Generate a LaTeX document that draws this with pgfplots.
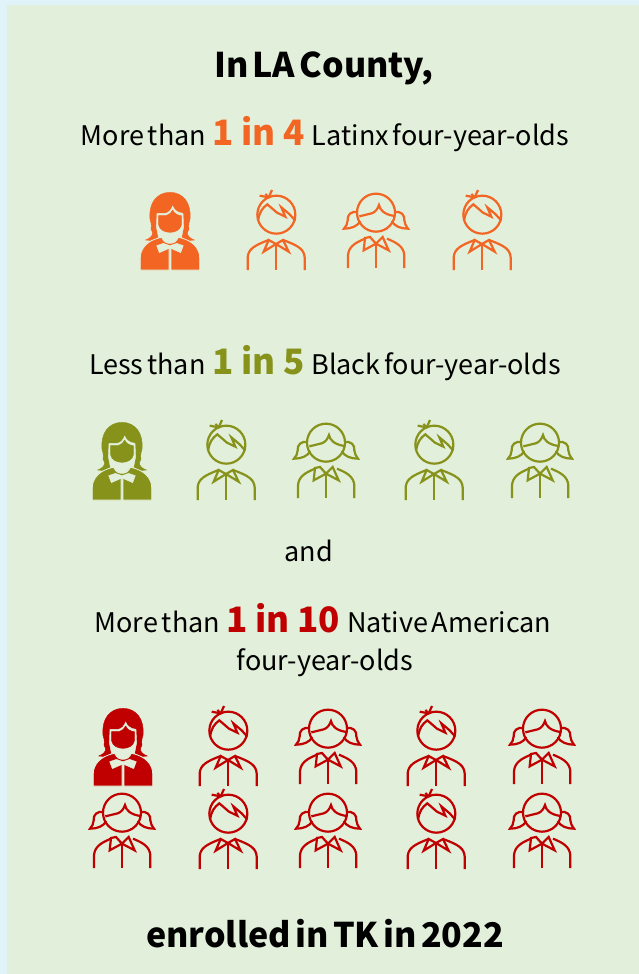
\documentclass[border=0pt]{standalone}
\usepackage{pgfplots}
\usepackage{fontspec}
\pgfplotsset{compat=1.18}
\setmainfont{Noto Sans CJK SC}
\definecolor{outerbg}{HTML}{E0F3F8}
\definecolor{panel}{HTML}{E2EFDA}
\definecolor{cO}{HTML}{F26522}
\definecolor{cG}{HTML}{87921A}
\definecolor{cR}{HTML}{C00000}
\newcommand\bigtxt[2]{\hspace{0.1em}\textcolor{#1}{\fontsize{35}{40}\selectfont\bfseries\spaceskip=0.22em #2}\hspace{0.12em}}
\newcommand\bodysize{\fontsize{27}{30}\selectfont\spaceskip=0.14em }
\newcommand\headsize{\fontsize{34}{38}\selectfont\bfseries\spaceskip=0.13em }
\newcommand\declareicons[2]{%
\pgfdeclareplotmark{boy#1}{%
 \begin{scope}[x=0.3333pt,y=-0.3333pt,draw=#2,line width=2.2pt,fill=none]
  \draw (1,-166) circle [radius=19pt];
  \draw (-54,-148) .. controls (-49,-175) and (-42,-185) .. (-26,-197) -- (3,-172) -- (28,-160) -- (16,-188) -- (41,-167) -- (58,-148);
  \draw (-12,-240) -- (-22,-218) -- (-49,-223);
  \draw (-32,-228) -- (-22,-218);
  \draw (-85,0) -- (-85,-38) .. controls (-83,-62) and (-67,-73) .. (-22,-90);
  \draw (86,0) -- (86,-38) .. controls (84,-62) and (68,-73) .. (21,-90);
  \draw (-22,-90) -- (-37,-55) -- (0,-78) -- (38,-55) -- (21,-90) -- (0,-78) -- cycle;
  \draw (0,-78) -- (0,0);
 \end{scope}}%
\pgfdeclareplotmark{girl#1}{%
 \begin{scope}[x=0.3333pt,y=-0.3333pt,draw=#2,line width=2.2pt,fill=none]
  \draw (0,-166) circle [radius=19pt];
  \draw (-50,-155) -- (-13,-164) .. controls (-1,-168) and (5,-178) .. (9,-189) .. controls (12,-173) and (25,-161) .. (55,-156);
  \draw (-55,-167) .. controls (-75,-173) and (-87,-158) .. (-85,-143) .. controls (-85,-133) and (-90,-125) .. (-96,-118) .. controls (-75,-118) and (-55,-125) .. (-47,-141);
  \draw (55,-167) .. controls (75,-173) and (87,-158) .. (85,-143) .. controls (85,-133) and (91,-125) .. (96,-118) .. controls (75,-118) and (55,-125) .. (47,-141);
  \draw (-84,0) -- (-84,-38) .. controls (-82,-63) and (-65,-75) .. (-33,-88);
  \draw (85,0) -- (85,-38) .. controls (83,-63) and (65,-75) .. (33,-88);
  \draw (-33,-90) -- (-37,-53) -- (0,-73) -- (38,-53) -- (20,-93) -- (0,-73) -- (-18,-93) -- cycle;
  \draw (0,-73) -- (0,0);
 \end{scope}}%
\pgfdeclareplotmark{solid#1}{%
 \begin{scope}[x=0.3333pt,y=-0.3333pt]
  \fill[#2] (-73,-90) .. controls (-60,-95) and (-52,-102) .. (-52,-112) .. controls (-56,-120) and (-60,-125) .. (-56,-132) .. controls (-60,-140) and (-54,-145) .. (-60,-152)
   .. controls (-65,-200) and (-40,-233) .. (0,-233) .. controls (40,-233) and (65,-200) .. (60,-152)
   .. controls (54,-145) and (60,-140) .. (56,-132) .. controls (60,-125) and (56,-120) .. (52,-112) .. controls (52,-102) and (60,-95) .. (73,-90)
   .. controls (55,-86) and (40,-92) .. (32,-104) -- (-32,-104) .. controls (-40,-92) and (-55,-86) .. (-73,-90) -- cycle;
  \fill[panel] (-39,-170) -- (-14,-170) .. controls (-2,-172) and (4,-182) .. (8,-192) .. controls (12,-182) and (20,-172) .. (39,-170) -- (41,-130) -- (34,-95) -- (-34,-95) -- (-41,-130) -- cycle;
  \fill[#2] (-34,-163) -- (-12,-163) .. controls (-2,-166) and (5,-172) .. (8,-180) .. controls (12,-170) and (22,-164) .. (34,-163) -- (34,-135) .. controls (31,-120) and (15,-113) .. (0,-113) .. controls (-15,-113) and (-31,-120) .. (-34,-135) -- cycle;
  \filldraw[fill=#2,draw=panel,line width=0.8pt] (-89,0) -- (-89,-38) .. controls (-89,-62) and (-70,-90) .. (-25,-98) .. controls (-20,-85) and (-10,-80) .. (0,-80) .. controls (10,-80) and (20,-85) .. (25,-98) .. controls (70,-90) and (89,-62) .. (89,-38) -- (89,0) -- (3,0) -- (3,-65) -- (-3,-65) -- (-3,0) -- cycle;
  \fill[panel] (-40,-73) -- (-20,-80) -- (0,-73) -- (20,-80) -- (40,-73) -- (32,-52) -- (0,-66) -- (-32,-52) -- cycle;
 \end{scope}}%
}
\declareicons{O}{cO}
\declareicons{G}{cG}
\declareicons{R}{cR}
\begin{document}
\begin{tikzpicture}
\begin{axis}[hide axis,scale only axis,width=639pt,height=974pt,xmin=0,xmax=639,ymin=0,ymax=974,y dir=reverse,clip=false,
  every node/.style={text=black,inner sep=0pt,anchor=center}]
\addplot[draw=none,fill=outerbg,forget plot] coordinates {(0,0)(639,0)(639,974)(0,974)} -- cycle;
\addplot[draw=none,fill=panel,forget plot] coordinates {(7,5)(639,5)(639,974)(7,974)} -- cycle;
\node at (axis cs:324,68) {\headsize In LA County,};
\node at (axis cs:325,134) {\bodysize More than \bigtxt{cO}{1 in 4} Latinx four-year-olds};
\node at (axis cs:325,363) {\bodysize Less than \bigtxt{cG}{1 in 5} Black four-year-olds};
\node at (axis cs:309,551) {\bodysize and};
\node at (axis cs:323,618) {\bodysize More than \bigtxt{cR}{1 in 10} Native American};
\node at (axis cs:325,663) {\bodysize four-year-olds};
\node at (axis cs:325,934) {\headsize enrolled in TK in 2022};
\addplot[only marks,mark=solidO] coordinates {(170,270)};
\addplot[only marks,mark=boyO] coordinates {(276,270)(482,270)};
\addplot[only marks,mark=girlO] coordinates {(376,268)};
\addplot[only marks,mark=solidG] coordinates {(122,500)};
\addplot[only marks,mark=boyG] coordinates {(226,500)(434,500)};
\addplot[only marks,mark=girlG] coordinates {(326,498)(540,498)};
\addplot[only marks,mark=solidR] coordinates {(123,786)};
\addplot[only marks,mark=boyR] coordinates {(228,786)(436,786)(228,869)(436,869)};
\addplot[only marks,mark=girlR] coordinates {(328,784)(542,784)(122,868)(328,868)(542,868)};
\end{axis}
\end{tikzpicture}
\end{document}
